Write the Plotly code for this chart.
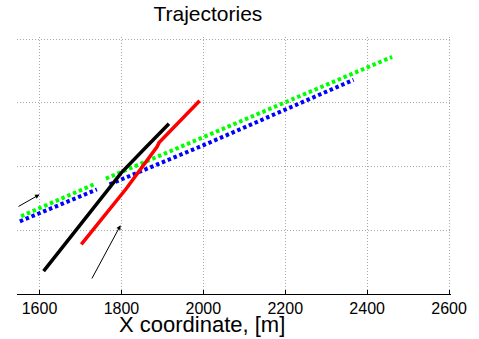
import plotly.graph_objects as go

# Trajectory vertices, X / Y coordinates in metres
black_x = [1610, 1709, 1800, 1861, 1916]
black_y = [1072, 1231, 1381, 1462, 1534]

red_x = [1702, 1812, 1887, 1892, 1991]
red_y = [1156, 1331, 1462, 1475, 1606]

# None splits a track into separate segments
green_x = [1555, 1733, None, 1762, 1979, 2461]
green_y = [1244, 1344, None, 1362, 1481, 1744]

blue_x = [1552, 1740, None, 1771, 2010, 2367]
blue_y = [1228, 1328, None, 1344, 1472, 1672]

# Direction arrows: (tail_x, tail_y, head_x, head_y)
arrows = [
    (1545, 1272, 1600, 1312),
    (1726, 1044, 1798, 1216),
]

x_ticks = [1600, 1800, 2000, 2200, 2400, 2600]
y_grid = [1000, 1200, 1400, 1600, 1800]

FONT = "Liberation Sans, Arial, Helvetica, sans-serif"
GRID = dict(showgrid=True, gridcolor="#a8a8a8", griddash="1px,2px", gridwidth=1)

fig = go.Figure()

fig.add_trace(go.Scatter(x=blue_x, y=blue_y, mode="lines",
                         line=dict(color="#0000ff", width=4, dash="3.5px,2.8px")))
fig.add_trace(go.Scatter(x=green_x, y=green_y, mode="lines",
                         line=dict(color="#00ff00", width=4, dash="3.5px,2.8px")))
fig.add_trace(go.Scatter(x=black_x, y=black_y, mode="lines",
                         line=dict(color="#000000", width=3.5)))
fig.add_trace(go.Scatter(x=red_x, y=red_y, mode="lines",
                         line=dict(color="#ff0000", width=3.5)))

for tx, ty, hx, hy in arrows:
    fig.add_annotation(x=hx, y=hy, ax=tx, ay=ty, xref="x", yref="y",
                       axref="x", ayref="y", text="", showarrow=True,
                       arrowhead=2, arrowsize=0.9, arrowwidth=1,
                       arrowcolor="#000000")

fig.add_annotation(text="X coordinate, [m]", xref="paper", yref="paper",
                   x=0.4255, y=-0.118, xanchor="center", yanchor="middle",
                   showarrow=False, font=dict(family=FONT, size=22, color="#000000"))

# The outer grid lines sit 2 px inside the plot edges so they stay visible
fig.update_layout(
    width=479, height=339,
    margin=dict(l=17, r=22, t=37, b=45),
    paper_bgcolor="white", plot_bgcolor="white",
    showlegend=False,
    title=dict(text="Trajectories", x=0.434, xref="container", xanchor="center",
               y=0.96, yref="container", yanchor="middle",
               font=dict(family=FONT, size=21, color="#000000")),
    xaxis=dict(range=[1545, 2604.8], tickvals=x_ticks, **GRID,
               showline=True, linecolor="#000000", linewidth=1,
               ticks="inside", ticklen=4, tickcolor="#000000",
               zeroline=False, tickfont=dict(family=FONT, size=16, color="#000000")),
    yaxis=dict(range=[1000, 1806.3], tickvals=y_grid, **GRID,
               showline=False, showticklabels=False, ticks="",
               zeroline=False),
)

fig.write_html("out.html")
